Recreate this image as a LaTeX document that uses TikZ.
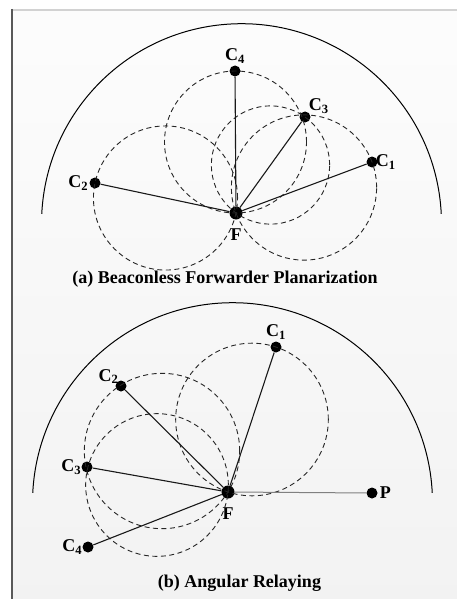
\documentclass[tikz,border=0pt]{standalone}
\usepackage{fontspec}
\setmainfont{Liberation Serif}
\usetikzlibrary{calc,through}

\tikzset{
  relay/.style={circle,fill=black,inner sep=0pt,minimum size=11pt},
  fwd/.style={circle,fill=black,inner sep=0pt,minimum size=13pt},
  region/.style={draw=black!85,dash pattern=on 5pt off 3.5pt,line width=0.9pt,inner sep=0pt},
  link/.style={draw=black!90,line width=1.1pt},
  lbl/.style={font=\fontsize{18}{18}\selectfont\bfseries,inner sep=1pt},
  caption/.style={font=\fontsize{18}{18}\selectfont\bfseries}
}
\newcommand{\cn}[1]{C\textsubscript{#1}}

\begin{document}
\begin{tikzpicture}[x=1pt,y=1pt]
  \useasboundingbox (0,0) rectangle (457,-599);
  % frame
  \shade[top color=gray!2,bottom color=gray!10] (12,-10) rectangle (457,-599);
  \draw[gray!35,line width=2pt] (12,-10) -- (457,-10);
  \draw[gray!70!black,line width=2pt] (12,-9) -- (12,-599);

  % (a) Beaconless Forwarder Planarization
  \coordinate (rangeA) at (241.5,-223.7);
  \draw[line width=1pt] ([shift={(2.8:200pt)}]rangeA) arc[start angle=2.8,end angle=177.2,radius=200pt];
  \node[fwd,label={[lbl,label distance=8pt]below:F}] (Fa) at (236,-213) {};
  \node[relay,label={[lbl,label distance=-3pt]right:\cn{1}}] (a1) at (372,-162) {};
  \node[relay,label={[lbl,label distance=0pt]left:\cn{2}}] (a2) at (95,-183) {};
  \node[relay,label={[lbl,label distance=-2pt]above right:\cn{3}}] (a3) at (305,-117) {};
  \node[relay,label={[lbl,label distance=1pt]above:\cn{4}}] (a4) at (235,-71) {};
  \foreach \c in {a1,a2,a3,a4}
    \node[region,circle through=(Fa.center)] at ($(Fa)!0.5!(\c)$) {};
  \foreach \c in {a1,a2,a3,a4}
    \draw[link] (Fa) -- (\c);
  \node[caption] (capA) at (225,-279) {(a) Beaconless Forwarder Planarization};

  % (b) Angular Relaying
  \coordinate (rangeB) at (232.5,-502.7);
  \draw[line width=1pt] ([shift={(2.8:200pt)}]rangeB) arc[start angle=2.8,end angle=177.2,radius=200pt];
  \node[fwd,label={[lbl,label distance=8pt]below:F}] (Fb) at (228,-492) {};
  \node[relay,label={[lbl,label distance=1pt]right:P}] (P) at (372,-493) {};
  \node[relay,label={[lbl,label distance=1pt]above:\cn{1}}] (b1) at (276,-347) {};
  \node[relay,label={[lbl,label distance=-4pt]150:\cn{2}}] (b2) at (121,-386) {};
  \node[relay,label={[lbl,label distance=-1pt]left:\cn{3}}] (b3) at (87,-467) {};
  \node[relay,label={[lbl,label distance=-1pt]left:\cn{4}}] (b4) at (88,-547) {};
  \node[region,circle through=(Fb.center)] at ($(Fb)!0.5!(b1)$) {};
  \node[region,circle through=(Fb.center)] at (162,-451) {};
  \node[region,circle through=(Fb.center)] at (157,-485) {};
  \foreach \c in {b1,b2,b3,b4}
    \draw[link] (Fb) -- (\c);
  \draw[draw=gray,line width=1pt] (Fb) -- (P);
  \node[caption] (capB) at (239.5,-583) {(b) Angular Relaying};
\end{tikzpicture}
\end{document}
